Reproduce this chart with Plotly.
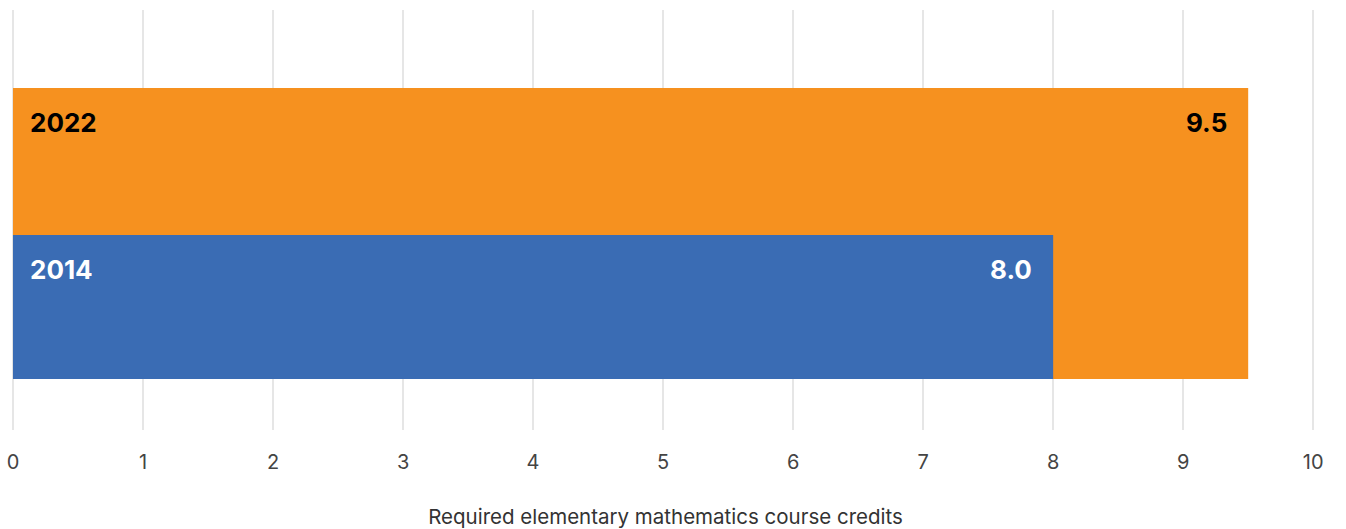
import plotly.graph_objects as go

# Data
years = ["2014", "2022"]
credits = [8.0, 9.5]
colors = ["#3A6CB4", "#F6911F"]
label_colors = ["#FFFFFF", "#000000"]
tick_vals = list(range(0, 11))
x_title = "Required elementary mathematics course credits"

FONT = "Inter, Roboto, sans-serif"
W = 0.98  # bar width in category units

fig = go.Figure()

# 2022 (orange) drawn first, spanning down to the bottom of the 2014 bar
fig.add_trace(go.Bar(
    y=[years[1]], x=[credits[1]], orientation="h",
    marker=dict(color=colors[1], line=dict(width=0)),
    width=[1 + W], offset=-(1 + W / 2),
    hoverinfo="skip", showlegend=False,
))
# 2014 (blue) on top
fig.add_trace(go.Bar(
    y=[years[0]], x=[credits[0]], orientation="h",
    marker=dict(color=colors[0], line=dict(width=0)),
    width=[W], offset=-W / 2,
    hoverinfo="skip", showlegend=False,
))

# labels inside bars
for i, (yr, v) in enumerate(zip(years, credits)):
    ytop = i + W / 2
    fig.add_annotation(x=0, y=ytop, xref="x", yref="y", text=f"<b>{yr}</b>",
                       showarrow=False, xanchor="left", yanchor="top",
                       xshift=15, yshift=-17,
                       font=dict(family=FONT, size=26, color=label_colors[i]))
    fig.add_annotation(x=v, y=ytop, xref="x", yref="y", text=f"<b>{v:.1f}</b>",
                       showarrow=False, xanchor="right", yanchor="top",
                       xshift=-19, yshift=-17,
                       font=dict(family=FONT, size=26, color=label_colors[i]))

fig.update_layout(
    width=1346, height=529,
    margin=dict(l=10, r=25, t=10, b=99, autoexpand=False),
    paper_bgcolor="white", plot_bgcolor="white",
    barmode="overlay",
    font=dict(family=FONT, color="#444444"),
    xaxis=dict(
        range=[-0.023, 10.06],
        tickvals=tick_vals,
        automargin=False,
        showgrid=True, gridcolor="#E6E6E6", gridwidth=2,
        zeroline=False, showline=False,
        ticks="", ticklabelstandoff=18,
        tickfont=dict(family=FONT, size=20, color="#444444"),
        title=dict(text=x_title, font=dict(family=FONT, size=20.5, color="#333333"),
                   standoff=38),
    ),
    yaxis=dict(
        type="category", categoryorder="array", categoryarray=years,
        range=[-0.837, 2.02],
        automargin=False,
        showgrid=False, zeroline=False, showline=False,
        showticklabels=False, ticks="",
    ),
)

fig.write_html("out.html", config={"displayModeBar": False},
               post_script="document.body.style.margin='0';")
